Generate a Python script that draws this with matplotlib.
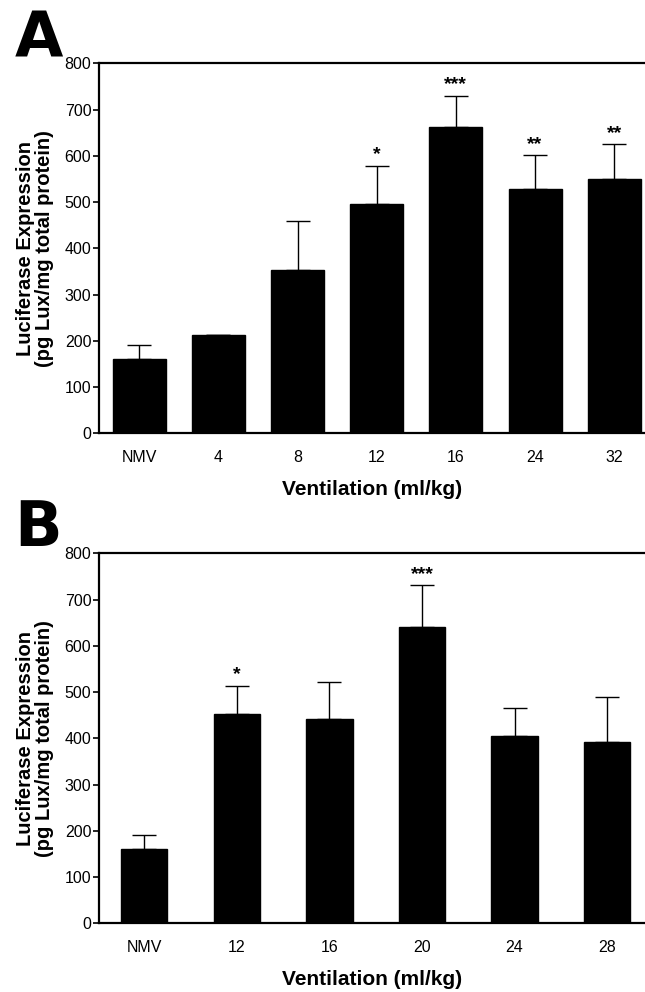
import numpy as np
import matplotlib
matplotlib.use("Agg")
import matplotlib.pyplot as plt
from matplotlib import font_manager

# panel A data
cats_a = ["NMV", "4", "8", "12", "16", "24", "32"]
vals_a = [160, 212, 352, 496, 662, 529, 549]
errs_a = [32, 0, 108, 83, 68, 72, 76]
stars_a = ["", "", "", "*", "***", "**", "**"]

# panel B data
cats_b = ["NMV", "12", "16", "20", "24", "28"]
vals_b = [160, 452, 442, 640, 406, 393]
errs_b = [32, 61, 80, 91, 59, 96]
stars_b = ["", "*", "", "***", "", ""]

yticks = [0, 100, 200, 300, 400, 500, 600, 700, 800]

names = {f.name for f in font_manager.fontManager.ttflist}
tick_family = ["Liberation Sans Narrow"] if "Liberation Sans Narrow" in names else ["Liberation Sans"]
plt.rcParams["font.family"] = ["Liberation Sans", "DejaVu Sans"]

fig = plt.figure(figsize=(6.45, 9.92), dpi=100)


def panel(rect, cats, vals, errs, stars, width, xlim, letter, letter_y):
    ax = fig.add_axes(rect)
    x = np.arange(len(cats))
    ax.bar(x, vals, width=width, color="black", edgecolor="black", zorder=2)
    ax.errorbar(x, vals, yerr=[np.zeros(len(x)), errs], fmt="none",
                ecolor="black", elinewidth=1.0, capsize=8.5, capthick=1.0, zorder=1)
    for xi, v, e, s in zip(x, vals, errs, stars):
        if s:
            ax.text(xi, v + e + 24, s, ha="center", va="center", fontsize=14,
                    fontweight="bold")
    ax.set_xlim(*xlim)
    ax.set_ylim(0, 800)
    ax.set_yticks(yticks)
    ax.set_yticklabels([str(t) for t in yticks], family=tick_family, fontsize=11.5)
    ax.set_xticks(x)
    ax.set_xticklabels(cats, family=tick_family, fontsize=11.5)
    ax.tick_params(axis="x", length=0, pad=12)
    ax.tick_params(axis="y", length=4, width=1.2, pad=1.5)
    ax.spines["right"].set_visible(False)
    for s in ["left", "bottom", "top"]:
        ax.spines[s].set_linewidth(1.6)
    ax.set_ylabel("Luciferase Expression\n(pg Lux/mg total protein)", fontsize=14.5,
                  fontweight="bold", labelpad=8, linespacing=0.95)
    ax.set_xlabel("Ventilation (ml/kg)", fontsize=15, fontweight="bold", labelpad=11)
    fig.text(0.022, letter_y, letter, fontsize=45, fontweight="bold", va="top",
             ha="left", family="DejaVu Sans")
    return ax


panel([0.1535, 0.5632, 0.8465, 0.373], cats_a, vals_a, errs_a, stars_a, 0.67,
      (-0.51, 6.39), "A", 0.99)
panel([0.1535, 0.0692, 0.8465, 0.373], cats_b, vals_b, errs_b, stars_b, 0.5,
      (-0.49, 5.41), "B", 0.497)

fig.savefig("out.png", dpi=100)
